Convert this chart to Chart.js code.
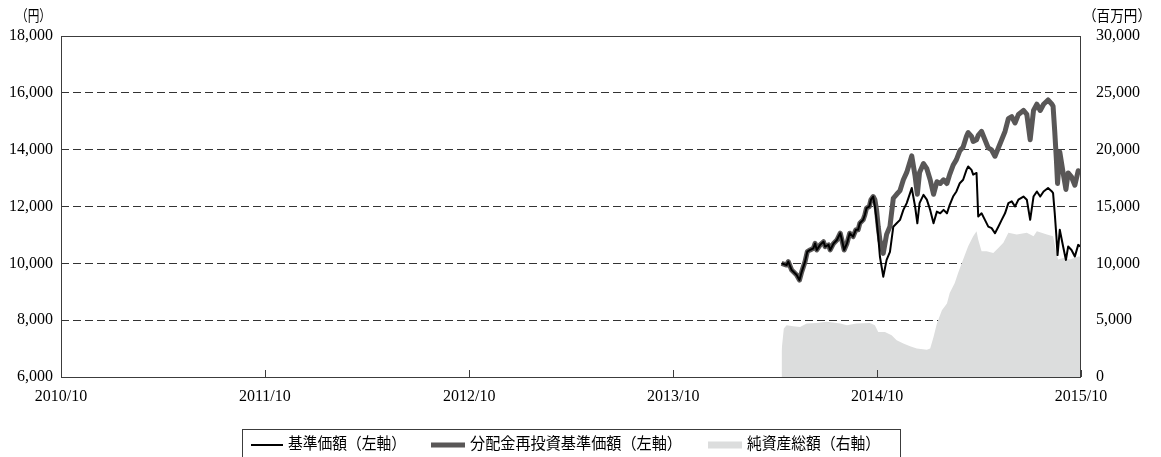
<!DOCTYPE html>
<html><head><meta charset="utf-8">
<script src="https://cdn.jsdelivr.net/npm/chart.js@4"></script>
<style>html,body{margin:0;padding:0;background:#fff}</style>
</head><body>
<canvas id="c" width="1161" height="457"></canvas>
<script>
// ---- data ----
const dates = [
 '2014-04-13','2014-04-22','2014-04-25','2014-05-01','2014-05-10','2014-05-15','2014-05-19','2014-05-25','2014-05-29','2014-06-03',
 '2014-06-09','2014-06-12','2014-06-15','2014-06-21','2014-06-27','2014-06-30','2014-07-06','2014-07-09','2014-07-15','2014-07-21',
 '2014-07-27','2014-07-30','2014-08-03','2014-08-08','2014-08-13','2014-08-19','2014-08-24','2014-08-28','2014-08-31','2014-09-06',
 '2014-09-09','2014-09-12','2014-09-17','2014-09-20','2014-09-24','2014-09-27','2014-09-30','2014-10-03','2014-10-06','2014-10-12',
 '2014-10-18','2014-10-24','2014-10-30','2014-11-05','2014-11-11','2014-11-17','2014-11-23','2014-11-29','2014-12-02','2014-12-08',
 '2014-12-12','2014-12-16','2014-12-23','2014-12-29','2015-01-04','2015-01-10','2015-01-16','2015-01-22','2015-01-28','2015-02-03',
 '2015-02-08','2015-02-14','2015-02-20','2015-02-26','2015-03-04','2015-03-10','2015-03-13','2015-03-19','2015-03-22','2015-03-28',
 '2015-03-31','2015-04-06','2015-04-12','2015-04-18','2015-04-24','2015-04-30','2015-05-06','2015-05-12','2015-05-18','2015-05-24',
 '2015-05-30','2015-06-05','2015-06-11','2015-06-20','2015-06-26','2015-07-02','2015-07-08','2015-07-14','2015-07-20','2015-07-26',
 '2015-08-03','2015-08-10','2015-08-12','2015-08-15','2015-08-18','2015-08-20','2015-08-24','2015-08-30','2015-09-04','2015-09-08',
 '2015-09-14','2015-09-20','2015-09-26','2015-09-30'
];
const navValues = [
 10000,9940,10060,9765,9590,9410,9700,10060,10410,10470,
 10530,10700,10470,10650,10760,10590,10650,10470,10700,10820,
 11060,10820,10470,10700,11060,10940,11180,11180,11410,11530,
 11700,11940,12000,12240,12350,12000,11530,10940,10240,9530,
 10120,10400,11290,11410,11530,11880,12120,12470,12650,12000,
 11410,12120,12410,12240,11880,11410,11820,11760,11880,11760,
 12060,12350,12530,12820,12940,13290,13410,13290,13120,13180,
 11650,11760,11530,11290,11240,11060,11290,11530,11760,12120,
 12180,12000,12240,12350,12240,11530,12350,12530,12350,12530,
 12650,12530,12470,11760,10940,10290,11180,10590,10120,10590,
 10470,10240,10650,10590
];
const reinvestValues = [
 10000,9940,10060,9765,9590,9410,9700,10060,10410,10470,
 10530,10700,10470,10650,10760,10590,10650,10470,10700,10820,
 11060,10820,10470,10700,11060,10940,11180,11180,11410,11530,
 11700,11940,12000,12240,12350,12240,11880,11290,10820,10350,
 11020,11300,12290,12430,12560,12940,13200,13580,13780,13070,
 12430,13200,13510,13330,12940,12430,12870,12810,12940,12810,
 13130,13450,13650,13960,14090,14470,14600,14470,14290,14350,
 14500,14640,14350,14060,13990,13770,14060,14350,14640,15090,
 15160,14940,15240,15380,15240,14350,15380,15600,15380,15600,
 15750,15600,15530,14640,13620,12810,13920,13180,12600,13180,
 13040,12750,13260,13180
];
const assetDates = [
 '2014-04-13','2014-04-17','2014-04-22','2014-05-04','2014-05-16','2014-05-28','2014-06-15','2014-07-03','2014-07-27','2014-08-08',
 '2014-08-25','2014-09-18','2014-09-27','2014-10-03','2014-10-15','2014-10-27','2014-11-05','2014-11-17','2014-11-29','2014-12-11',
 '2014-12-29','2015-01-04','2015-01-10','2015-01-16','2015-01-25','2015-02-03','2015-02-08','2015-02-17','2015-02-23','2015-03-04',
 '2015-03-13','2015-03-22','2015-03-28','2015-03-31','2015-04-06','2015-04-15','2015-04-27','2015-05-06','2015-05-15','2015-05-24',
 '2015-06-08','2015-06-26','2015-07-08','2015-07-14','2015-08-01','2015-08-12','2015-08-18','2015-08-21','2015-08-30','2015-09-11',
 '2015-09-28','2015-09-30'
];
const assetValues = [
 2350,4260,4550,4470,4400,4700,4760,4850,4700,4550,
 4700,4760,4550,3960,3960,3670,3230,2940,2700,2500,
 2400,2500,3520,4700,5880,6460,7400,8280,9150,10330,
 11500,12380,12820,12090,11060,11060,10910,11350,11800,12680,
 12530,12680,12380,12820,12530,12380,10910,10330,10480,10330,
 10620,10480
];
const tickDates = ['2010-10-01','2011-10-01','2012-10-01','2013-10-01','2014-10-01','2015-10-01'];
const tickLabels = ['2010/10','2011/10','2012/10','2013/10','2014/10','2015/10'];
const seriesNames = ['基準価額（左軸）','分配金再投資基準価額（左軸）','純資産総額（右軸）'];
const leftUnit = '（円）';
const rightUnit = '（百万円）';

// ---- helpers ----
const ORIGIN = Date.UTC(2010, 9, 1);
function dayNum(s){ const [y,m,d] = s.split('-').map(Number); return (Date.UTC(y, m-1, d) - ORIGIN) / 86400000; }
const tickDays = tickDates.map(dayNum);
const pts = (ds, vs) => ds.map((d, i) => ({x: dayNum(d), y: vs[i]}));
const SERIF = "'Liberation Serif','DejaVu Serif','Noto Sans CJK JP',serif";
const fmt = v => Number(v).toLocaleString('en-US');

const decor = {
  id: 'decor',
  afterDatasetsDraw(chart){
    const {ctx, chartArea: a, scales: {x}} = chart;
    ctx.save();
    ctx.strokeStyle = '#3c3c3c';
    ctx.lineWidth = 1;
    ctx.strokeRect(Math.round(a.left) + 0.5, Math.round(a.top) + 0.5, Math.round(a.right - a.left) - 1, Math.round(a.bottom - a.top));
    ctx.beginPath();
    x.ticks.forEach(t => {
      const px = Math.round(x.getPixelForValue(t.value)) + 0.5;
      ctx.moveTo(px, a.bottom);
      ctx.lineTo(px, a.bottom - 7);
    });
    ctx.stroke();
    ctx.restore();
  },
  afterDraw(chart){
    const ctx = chart.ctx;
    const ds = chart.data.datasets;
    ctx.save();
    ctx.fillStyle = '#000';
    ctx.textBaseline = 'middle';
    ctx.font = "15px " + SERIF;
    ctx.textAlign = 'left';
    ctx.fillText(leftUnit, 16, 17, 35);
    ctx.fillText(rightUnit, 1083, 17, 68);
    // legend box
    ctx.strokeStyle = '#3c3c3c';
    ctx.lineWidth = 1;
    ctx.strokeRect(242.5, 429.5, 658, 40);
    const ly = 445;
    ctx.lineCap = 'butt';
    ctx.strokeStyle = ds[0].borderColor; ctx.lineWidth = 2;
    ctx.beginPath(); ctx.moveTo(251, ly); ctx.lineTo(283, ly); ctx.stroke();
    ctx.strokeStyle = ds[1].borderColor; ctx.lineWidth = 5;
    ctx.beginPath(); ctx.moveTo(431, ly); ctx.lineTo(465, ly); ctx.stroke();
    ctx.fillStyle = ds[2].backgroundColor;
    ctx.fillRect(708, ly - 3.5, 34, 7);
    ctx.fillStyle = '#000';
    ctx.font = "16px " + SERIF;
    ctx.fillText(seriesNames[0], 288, ly, 118);
    ctx.fillText(seriesNames[1], 470, ly, 212);
    ctx.fillText(seriesNames[2], 747, ly, 133);
    ctx.restore();
  }
};

new Chart(document.getElementById('c'), {
  type: 'line',
  data: {
    datasets: [
      { label: seriesNames[0], data: pts(dates, navValues), yAxisID: 'y',
        borderColor: '#000000', borderWidth: 2, pointRadius: 0, tension: 0, fill: false, borderJoinStyle: 'round' },
      { label: seriesNames[1], data: pts(dates, reinvestValues), yAxisID: 'y',
        borderColor: '#595757', borderWidth: 5, pointRadius: 0, tension: 0, fill: false, borderJoinStyle: 'round' },
      { label: seriesNames[2], data: pts(assetDates, assetValues), yAxisID: 'y1',
        borderColor: 'rgba(0,0,0,0)', borderWidth: 0, backgroundColor: '#dcdddd', pointRadius: 0, tension: 0, fill: 'origin' }
    ]
  },
  options: {
    responsive: false,
    animation: false,
    devicePixelRatio: 1,
    layout: { padding: { top: 36, left: 0, right: 0, bottom: 50 } },
    plugins: { legend: { display: false }, tooltip: { enabled: false } },
    scales: {
      x: {
        type: 'linear', min: tickDays[0], max: tickDays[tickDays.length - 1],
        afterBuildTicks: s => { s.ticks = tickDays.map(v => ({ value: v })); },
        afterFit: s => { s.height = 30; },
        ticks: { callback: (v, i) => tickLabels[i], font: { family: SERIF, size: 16 }, color: '#000',
                 padding: 2, maxRotation: 0, autoSkip: false },
        grid: { display: false },
        border: { display: false }
      },
      y: {
        position: 'left', min: 6000, max: 18000,
        afterFit: s => { s.width = 61; },
        ticks: { stepSize: 2000, callback: v => fmt(v), font: { family: SERIF, size: 16 }, color: '#000', padding: 8 },
        grid: { drawTicks: false, lineWidth: 1,
                color: c => (c.tick && (c.tick.value === 6000 || c.tick.value === 18000)) ? 'rgba(0,0,0,0)' : '#333333' },
        border: { display: false, dash: [8, 4] }
      },
      y1: {
        position: 'right', min: 0, max: 30000,
        afterFit: s => { s.width = 80; },
        ticks: { stepSize: 5000, callback: v => fmt(v), font: { family: SERIF, size: 16 }, color: '#000', padding: 7 },
        grid: { display: false, drawOnChartArea: false },
        border: { display: false }
      }
    }
  },
  plugins: [decor]
});
</script>
</body></html>
